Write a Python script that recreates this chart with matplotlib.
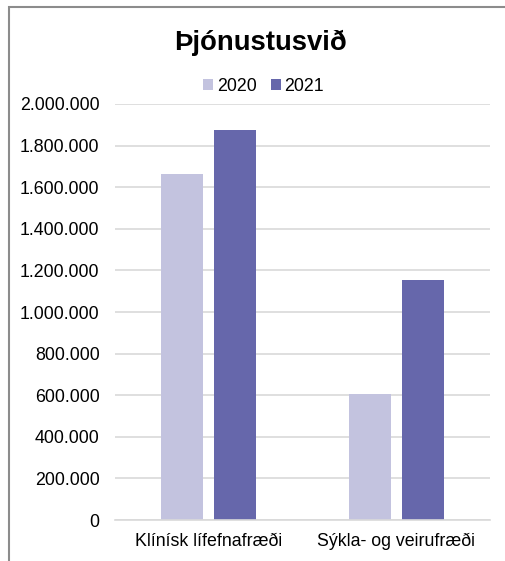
import matplotlib.pyplot as plt
from matplotlib.patches import Rectangle
import numpy as np

# Datos
categorias = ['Klínísk lífefnafræði', 'Sýkla- og veirufræði']
valores_2020 = [1663000, 604000]
valores_2021 = [1873000, 1152000]
anios = ['2020', '2021']
colores = ['#c3c3df', '#6667ab']

plt.rcParams['font.family'] = ['Liberation Sans', 'DejaVu Sans']

fig = plt.figure(figsize=(5.06, 5.61), dpi=100)
ax = fig.add_axes([0.227, 0.073, 0.741, 0.7417])

x = np.arange(len(categorias))
ancho = 0.224
desp = 0.141
ax.bar(x - desp, valores_2020, width=ancho, color=colores[0], label=anios[0], zorder=2)
ax.bar(x + desp, valores_2021, width=ancho, color=colores[1], label=anios[1], zorder=2)

ax.set_xlim(-0.5, 1.5)
ax.set_ylim(0, 2000000)
ax.set_xticks(x, categorias)
yt = np.arange(0, 2000001, 200000)
ax.set_yticks(yt, [f'{int(v):,}'.replace(',', '.') for v in yt])
ax.tick_params(axis='both', length=0, labelsize=12.8, colors='black')
ax.tick_params(axis='y', pad=11)
ax.tick_params(axis='x', pad=9)
ax.grid(axis='y', color='#d9d9d9', linewidth=1.2, zorder=0)
for s in ['top', 'right', 'left']:
    ax.spines[s].set_visible(False)
ax.spines['bottom'].set_color('#d9d9d9')
ax.spines['bottom'].set_linewidth(1.2)

fig.text(0.515, 0.923, 'Þjónustusvið', ha='center', va='center',
         fontsize=19.8, fontweight='bold')
fig.legend(loc='center', bbox_to_anchor=(0.521, 0.846), ncol=2, frameon=False,
           fontsize=12.8, handlelength=0.56, handleheight=0.56, handletextpad=0.2,
           columnspacing=0.8)

# Borde
fig.patches.append(Rectangle((9 / 506, -0.1), 1.2, 1 - 6.5 / 561 + 0.1,
                             transform=fig.transFigure, fill=False,
                             edgecolor='#8c8c8c', linewidth=1.5))

fig.savefig('out.png', dpi=100)
